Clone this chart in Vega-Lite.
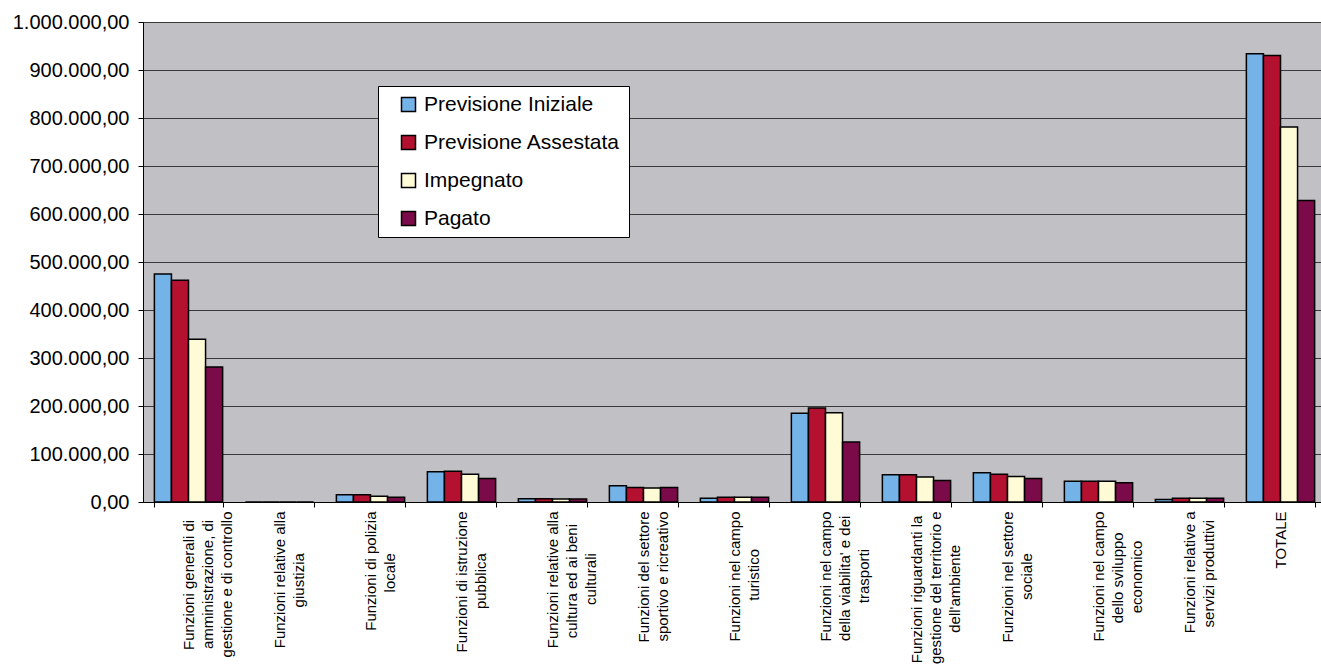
{
  "$schema": "https://vega.github.io/schema/vega-lite/v6.json",
  "width": 1183,
  "height": 480,
  "autosize": {"type": "none"},
  "padding": {"left": 143, "top": 22, "right": 0, "bottom": 162},
  "background": "white",
  "data": {
    "values": [
      {"funzione": "Funzioni generali di amministrazione, di gestione e di controllo", "voce": "Previsione Iniziale", "importo": 475000},
      {"funzione": "Funzioni generali di amministrazione, di gestione e di controllo", "voce": "Previsione Assestata", "importo": 462000},
      {"funzione": "Funzioni generali di amministrazione, di gestione e di controllo", "voce": "Impegnato", "importo": 339000},
      {"funzione": "Funzioni generali di amministrazione, di gestione e di controllo", "voce": "Pagato", "importo": 281000},

      {"funzione": "Funzioni relative alla giustizia", "voce": "Previsione Iniziale", "importo": 0},
      {"funzione": "Funzioni relative alla giustizia", "voce": "Previsione Assestata", "importo": 0},
      {"funzione": "Funzioni relative alla giustizia", "voce": "Impegnato", "importo": 0},
      {"funzione": "Funzioni relative alla giustizia", "voce": "Pagato", "importo": 0},

      {"funzione": "Funzioni di polizia locale", "voce": "Previsione Iniziale", "importo": 15000},
      {"funzione": "Funzioni di polizia locale", "voce": "Previsione Assestata", "importo": 15000},
      {"funzione": "Funzioni di polizia locale", "voce": "Impegnato", "importo": 12000},
      {"funzione": "Funzioni di polizia locale", "voce": "Pagato", "importo": 10000},

      {"funzione": "Funzioni di istruzione pubblica", "voce": "Previsione Iniziale", "importo": 63000},
      {"funzione": "Funzioni di istruzione pubblica", "voce": "Previsione Assestata", "importo": 64000},
      {"funzione": "Funzioni di istruzione pubblica", "voce": "Impegnato", "importo": 58000},
      {"funzione": "Funzioni di istruzione pubblica", "voce": "Pagato", "importo": 49000},

      {"funzione": "Funzioni relative alla cultura ed ai beni culturali", "voce": "Previsione Iniziale", "importo": 7000},
      {"funzione": "Funzioni relative alla cultura ed ai beni culturali", "voce": "Previsione Assestata", "importo": 7000},
      {"funzione": "Funzioni relative alla cultura ed ai beni culturali", "voce": "Impegnato", "importo": 6000},
      {"funzione": "Funzioni relative alla cultura ed ai beni culturali", "voce": "Pagato", "importo": 6000},

      {"funzione": "Funzioni del settore sportivo e ricreativo", "voce": "Previsione Iniziale", "importo": 34000},
      {"funzione": "Funzioni del settore sportivo e ricreativo", "voce": "Previsione Assestata", "importo": 30000},
      {"funzione": "Funzioni del settore sportivo e ricreativo", "voce": "Impegnato", "importo": 29000},
      {"funzione": "Funzioni del settore sportivo e ricreativo", "voce": "Pagato", "importo": 30000},

      {"funzione": "Funzioni nel campo turistico", "voce": "Previsione Iniziale", "importo": 8000},
      {"funzione": "Funzioni nel campo turistico", "voce": "Previsione Assestata", "importo": 10000},
      {"funzione": "Funzioni nel campo turistico", "voce": "Impegnato", "importo": 10000},
      {"funzione": "Funzioni nel campo turistico", "voce": "Pagato", "importo": 10000},

      {"funzione": "Funzioni nel campo della viabilita' e dei trasporti", "voce": "Previsione Iniziale", "importo": 185000},
      {"funzione": "Funzioni nel campo della viabilita' e dei trasporti", "voce": "Previsione Assestata", "importo": 196000},
      {"funzione": "Funzioni nel campo della viabilita' e dei trasporti", "voce": "Impegnato", "importo": 186000},
      {"funzione": "Funzioni nel campo della viabilita' e dei trasporti", "voce": "Pagato", "importo": 125000},

      {"funzione": "Funzioni riguardanti la gestione del territorio e dell'ambiente", "voce": "Previsione Iniziale", "importo": 57000},
      {"funzione": "Funzioni riguardanti la gestione del territorio e dell'ambiente", "voce": "Previsione Assestata", "importo": 57000},
      {"funzione": "Funzioni riguardanti la gestione del territorio e dell'ambiente", "voce": "Impegnato", "importo": 52000},
      {"funzione": "Funzioni riguardanti la gestione del territorio e dell'ambiente", "voce": "Pagato", "importo": 45000},

      {"funzione": "Funzioni nel settore sociale", "voce": "Previsione Iniziale", "importo": 61000},
      {"funzione": "Funzioni nel settore sociale", "voce": "Previsione Assestata", "importo": 58000},
      {"funzione": "Funzioni nel settore sociale", "voce": "Impegnato", "importo": 53000},
      {"funzione": "Funzioni nel settore sociale", "voce": "Pagato", "importo": 49000},

      {"funzione": "Funzioni nel campo dello sviluppo economico", "voce": "Previsione Iniziale", "importo": 43000},
      {"funzione": "Funzioni nel campo dello sviluppo economico", "voce": "Previsione Assestata", "importo": 43000},
      {"funzione": "Funzioni nel campo dello sviluppo economico", "voce": "Impegnato", "importo": 43000},
      {"funzione": "Funzioni nel campo dello sviluppo economico", "voce": "Pagato", "importo": 40000},

      {"funzione": "Funzioni relative a servizi produttivi", "voce": "Previsione Iniziale", "importo": 5000},
      {"funzione": "Funzioni relative a servizi produttivi", "voce": "Previsione Assestata", "importo": 8000},
      {"funzione": "Funzioni relative a servizi produttivi", "voce": "Impegnato", "importo": 8000},
      {"funzione": "Funzioni relative a servizi produttivi", "voce": "Pagato", "importo": 8000},

      {"funzione": "TOTALE", "voce": "Previsione Iniziale", "importo": 934000},
      {"funzione": "TOTALE", "voce": "Previsione Assestata", "importo": 930000},
      {"funzione": "TOTALE", "voce": "Impegnato", "importo": 781000},
      {"funzione": "TOTALE", "voce": "Pagato", "importo": 628000}
    ]
  },
  "mark": {"type": "bar", "stroke": "black", "strokeWidth": 1.5},
  "encoding": {
    "x": {
      "field": "funzione",
      "type": "nominal",
      "sort": null,
      "scale": {"paddingInner": 0.25, "paddingOuter": 0.125},
      "axis": {
        "title": null,
        "labelExpr": "indexof(datum.label, 'controllo') >= 0 ? [pad('Funzioni generali di', 22, '\u00a0') + '\u200b', pad('amministrazione, di', 21, '\u00a0') + '\u200b', 'gestione e di controllo'] : indexof(datum.label, 'giustizia') >= 0 ? ['Funzioni relative alla', pad('giustizia', 19, '\u00a0') + '\u200b'] : indexof(datum.label, 'polizia') >= 0 ? ['Funzioni di polizia', pad('locale', 16, '\u00a0') + '\u200b'] : indexof(datum.label, 'istruzione') >= 0 ? ['Funzioni di istruzione', pad('pubblica', 18, '\u00a0') + '\u200b'] : indexof(datum.label, 'beni') >= 0 ? ['Funzioni relative alla', pad('cultura ed ai beni', 21, '\u00a0') + '\u200b', pad('culturali', 19, '\u00a0') + '\u200b'] : indexof(datum.label, 'sportivo') >= 0 ? ['Funzioni del settore', 'sportivo e ricreativo'] : indexof(datum.label, 'turistico') >= 0 ? ['Funzioni nel campo', pad('turistico', 18, '\u00a0') + '\u200b'] : indexof(datum.label, 'viabilita') >= 0 ? ['Funzioni nel campo', pad(\"della viabilita' e dei\", 23, '\u00a0') + '\u200b', pad('trasporti', 18, '\u00a0') + '\u200b'] : indexof(datum.label, 'territorio') >= 0 ? [pad('Funzioni riguardanti la', 24, '\u00a0') + '\u200b', 'gestione del territorio e', pad(\"dell'ambiente\", 21, '\u00a0') + '\u200b'] : indexof(datum.label, 'sociale') >= 0 ? ['Funzioni nel settore', pad('sociale', 17, '\u00a0') + '\u200b'] : indexof(datum.label, 'sviluppo') >= 0 ? ['Funzioni nel campo', pad('dello sviluppo', 19, '\u00a0') + '\u200b', pad('economico', 16, '\u00a0') + '\u200b'] : indexof(datum.label, 'servizi') >= 0 ? ['Funzioni relative a', pad('servizi produttivi', 20, '\u00a0') + '\u200b'] : datum.label",
        "labelAngle": -90,
        "labelAlign": "right",
        "labelBaseline": "middle",
        "labelFontSize": 15,
        "labelLineHeight": 19,
        "labelColor": "black",
        "labelLimit": 0,
        "labelOverlap": false,
        "labelPadding": 4,
        "tickBand": "extent",
        "tickSize": 5,
        "tickColor": "black",
        "domainColor": "black"
      }
    },
    "xOffset": {
      "field": "voce",
      "type": "nominal",
      "sort": ["Previsione Iniziale", "Previsione Assestata", "Impegnato", "Pagato"],
      "scale": {"paddingInner": 0, "paddingOuter": 0}
    },
    "y": {
      "field": "importo",
      "type": "quantitative",
      "scale": {"domain": [0, 1000000], "nice": false},
      "axis": {
        "title": null,
        "values": [0, 100000, 200000, 300000, 400000, 500000, 600000, 700000, 800000, 900000, 1000000],
        "format": ",.2f",
        "labelFontSize": 20,
        "labelColor": "black",
        "labelPadding": 9,
        "tickSize": 5,
        "tickColor": "black",
        "domainColor": "black",
        "grid": true,
        "gridColor": "#3a3a3a",
        "gridWidth": 1
      }
    },
    "color": {
      "field": "voce",
      "type": "nominal",
      "scale": {
        "domain": ["Previsione Iniziale", "Previsione Assestata", "Impegnato", "Pagato"],
        "range": ["#74B3E8", "#B3112F", "#FFFBD6", "#7A0A48"]
      },
      "legend": {
        "orient": "none",
        "legendX": 235,
        "legendY": 64,
        "title": null,
        "fillColor": "white",
        "strokeColor": "black",
        "padding": 8,
        "symbolType": "square",
        "symbolSize": 196,
        "symbolStrokeColor": "black",
        "symbolStrokeWidth": 1.5,
        "symbolOffset": 12,
        "labelOffset": 5,
        "labelFontSize": 21,
        "labelLimit": 0,
        "labelColor": "black",
        "rowPadding": 16
      }
    }
  },
  "config": {
    "font": "Liberation Sans",
    "locale": {
      "number": {"decimal": ",", "thousands": ".", "grouping": [3], "currency": ["€", ""]}
    },
    "view": {"fill": "#C1C0C5", "stroke": "black", "strokeWidth": 1}
  }
}
